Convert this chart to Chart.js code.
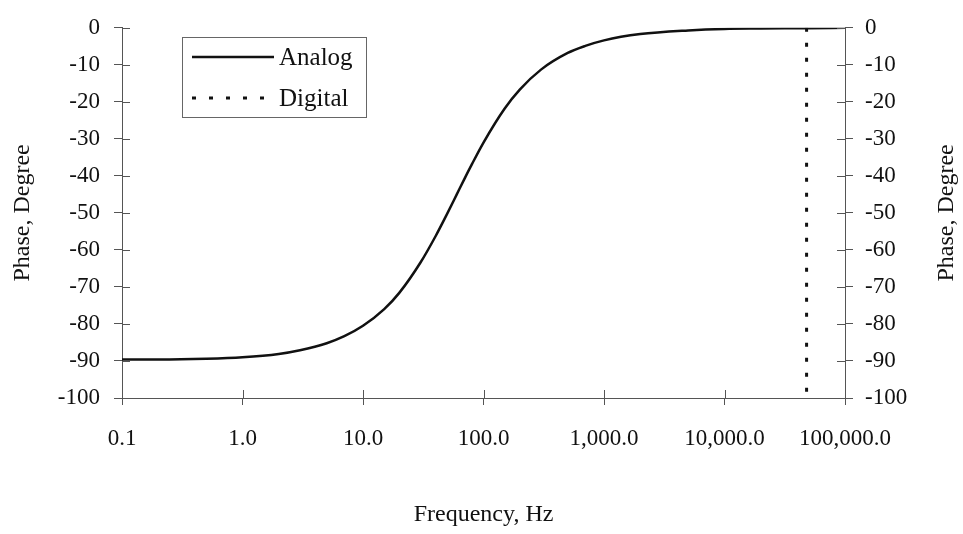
<!DOCTYPE html>
<html>
<head>
<meta charset="utf-8">
<script src="https://cdn.jsdelivr.net/npm/chart.js@4"></script>
<style>
  html, body { margin: 0; padding: 0; background: #fff; }
  #wrap { width: 963px; height: 534px; }
</style>
</head>
<body>
<div id="wrap"><canvas id="phaseChart"></canvas></div>
<script>
// values
const freqHz = [0.1, 0.2, 0.5, 1, 2, 3, 5, 7, 10, 15, 20, 30, 40, 50, 60, 70, 80, 100, 150, 200, 300, 500, 700, 1000, 2000, 5000, 10000, 20000, 50000, 100000];
const analogPhase = [-89.6, -89.6, -89.4, -89.0, -88.1, -87.1, -85.2, -83.3, -80.5, -76.0, -71.6, -63.4, -56.3, -50.2, -45.0, -40.6, -36.9, -31.0, -21.8, -16.7, -11.3, -6.8, -4.9, -3.4, -1.7, -0.7, -0.3, -0.2, -0.1, 0];
const digitalFreq = [48000, 48000];
const digitalPhase = [0, -100];

const xTickValues = [0.1, 1, 10, 100, 1000, 10000, 100000];
const xTickLabels = ['0.1', '1.0', '10.0', '100.0', '1,000.0', '10,000.0', '100,000.0'];
const yTitle = 'Phase, Degree';

const serif = 'Liberation Serif, Times New Roman, serif';
const axisColor = '#555';
const inkColor = '#111';

function toPoints(xs, ys) {
    return xs.map((x, i) => ({ x: x, y: ys[i] }));
}

// tick marks that cross the axis line (inner half)
const innerTicks = {
    id: 'innerTicks',
    afterDraw(chart) {
        const ctx = chart.ctx;
        const area = chart.chartArea;
        ctx.save();
        ctx.strokeStyle = axisColor;
        ctx.lineWidth = 1;
        ctx.beginPath();
        chart.scales.y.ticks.forEach(t => {
            const py = Math.round(chart.scales.y.getPixelForValue(t.value)) + 0.5;
            ctx.moveTo(area.left, py); ctx.lineTo(area.left + 8, py);
        });
        chart.scales.y2.ticks.forEach(t => {
            const py = Math.round(chart.scales.y2.getPixelForValue(t.value)) + 0.5;
            ctx.moveTo(area.right - 8, py); ctx.lineTo(area.right, py);
        });
        chart.scales.x.ticks.forEach(t => {
            const px = Math.round(chart.scales.x.getPixelForValue(t.value)) + 0.5;
            ctx.moveTo(px, area.bottom); ctx.lineTo(px, area.bottom - 8);
        });
        ctx.stroke();

        // right axis title reads bottom to top, like the left one
        ctx.font = '24px ' + serif;
        ctx.fillStyle = inkColor;
        ctx.textAlign = 'center';
        ctx.textBaseline = 'middle';
        ctx.translate(947, (area.top + area.bottom) / 2);
        ctx.rotate(-Math.PI / 2);
        ctx.fillText(yTitle, 0, 0);
        ctx.restore();
    }
};

// boxed legend inside the plot, top left
const boxLegend = {
    id: 'boxLegend',
    afterDraw(chart) {
        const ctx = chart.ctx;
        const bx = 182, by = 37, bw = 184, bh = 80;
        ctx.save();
        ctx.fillStyle = '#fff';
        ctx.fillRect(bx, by, bw, bh);
        ctx.strokeStyle = '#666';
        ctx.lineWidth = 1;
        ctx.strokeRect(bx + 0.5, by + 0.5, bw, bh);
        ctx.font = '25px ' + serif;
        ctx.textBaseline = 'middle';
        ctx.fillStyle = inkColor;
        chart.data.datasets.forEach((ds, i) => {
            const ly = by + 20 + i * 41;
            ctx.strokeStyle = ds.borderColor;
            ctx.lineWidth = ds.borderWidth;
            ctx.setLineDash(i === 1 ? [4, 13] : []);
            ctx.beginPath();
            ctx.moveTo(bx + 10, ly);
            ctx.lineTo(bx + 92, ly);
            ctx.stroke();
            ctx.setLineDash([]);
            ctx.fillText(ds.label, bx + 97, ly + 1);
        });
        ctx.restore();
    }
};

const ctx = document.getElementById('phaseChart').getContext('2d');
const phaseChart = new Chart(ctx, {
    type: 'line',
    data: {
        datasets: [{
            label: 'Analog',
            data: toPoints(freqHz, analogPhase),
            borderColor: inkColor,
            borderWidth: 2.5,
            pointRadius: 0,
            fill: false,
            cubicInterpolationMode: 'monotone'
        }, {
            label: 'Digital',
            data: toPoints(digitalFreq, digitalPhase),
            borderColor: inkColor,
            borderWidth: 3,
            borderDash: [4, 11],
            pointRadius: 0,
            fill: false
        }]
    },
    options: {
        responsive: true,
        maintainAspectRatio: false,
        animation: false,
        layout: { padding: { top: 17, left: 0, right: 0, bottom: 0 } },
        plugins: {
            legend: { display: false },
            tooltip: { enabled: false }
        },
        scales: {
            x: {
                type: 'logarithmic',
                min: 0.1,
                max: 100000,
                afterBuildTicks: (scale) => {
                    scale.ticks = xTickValues.map(v => ({ value: v }));
                },
                afterFit: (scale) => { scale.height = 136; },
                ticks: {
                    autoSkip: false,
                    maxRotation: 0,
                    padding: 20,
                    color: inkColor,
                    font: { family: serif, size: 23 },
                    callback: (val, i) => xTickLabels[i]
                },
                grid: { drawOnChartArea: false, tickLength: 7, color: axisColor },
                border: { color: axisColor, width: 1 },
                title: {
                    display: true,
                    text: 'Frequency, Hz',
                    color: inkColor,
                    font: { family: serif, size: 24 },
                    padding: { top: 0, bottom: 5 }
                }
            },
            y: {
                position: 'left',
                min: -100,
                max: 0,
                afterFit: (scale) => { scale.width = 122; },
                ticks: {
                    stepSize: 10,
                    padding: 14,
                    color: inkColor,
                    font: { family: serif, size: 23 }
                },
                grid: { drawOnChartArea: false, tickLength: 8, color: axisColor },
                border: { color: axisColor, width: 1 },
                title: {
                    display: true,
                    text: yTitle,
                    color: inkColor,
                    font: { family: serif, size: 24 },
                    padding: { top: 8, bottom: 0 }
                }
            },
            y2: {
                position: 'right',
                min: -100,
                max: 0,
                afterFit: (scale) => { scale.width = 118; },
                ticks: {
                    stepSize: 10,
                    padding: 12,
                    color: inkColor,
                    font: { family: serif, size: 23 }
                },
                grid: { drawOnChartArea: false, tickLength: 8, color: axisColor },
                border: { color: axisColor, width: 1 }
            }
        }
    },
    plugins: [innerTicks, boxLegend]
});
</script>
</body>
</html>
